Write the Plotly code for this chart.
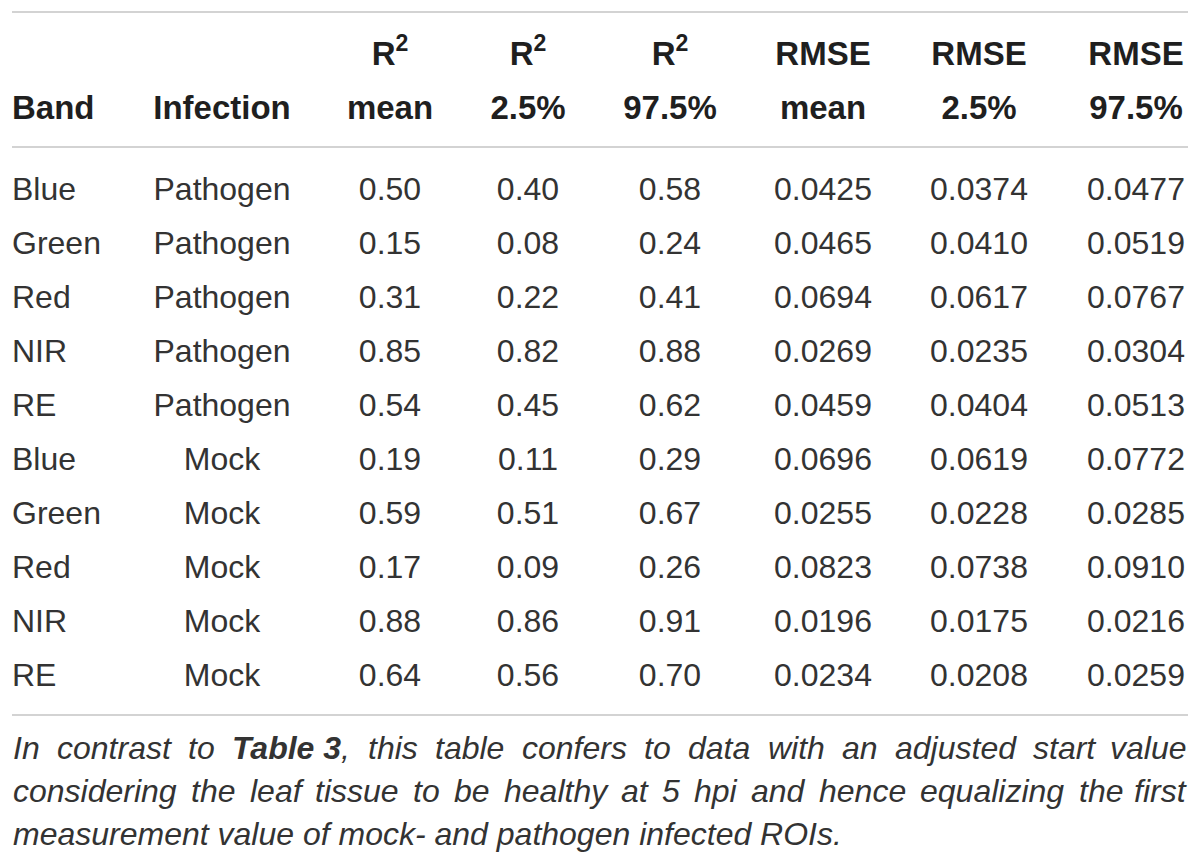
import plotly.graph_objects as go

# table values
bands = ["Blue", "Green", "Red", "NIR", "RE", "Blue", "Green", "Red", "NIR", "RE"]
infection = ["Pathogen", "Pathogen", "Pathogen", "Pathogen", "Pathogen",
             "Mock", "Mock", "Mock", "Mock", "Mock"]
r2_mean = [0.50, 0.15, 0.31, 0.85, 0.54, 0.19, 0.59, 0.17, 0.88, 0.64]
r2_lo = [0.40, 0.08, 0.22, 0.82, 0.45, 0.11, 0.51, 0.09, 0.86, 0.56]
r2_hi = [0.58, 0.24, 0.41, 0.88, 0.62, 0.29, 0.67, 0.26, 0.91, 0.70]
rmse_mean = [0.0425, 0.0465, 0.0694, 0.0269, 0.0459, 0.0696, 0.0255, 0.0823, 0.0196, 0.0234]
rmse_lo = [0.0374, 0.0410, 0.0617, 0.0235, 0.0404, 0.0619, 0.0228, 0.0738, 0.0175, 0.0208]
rmse_hi = [0.0477, 0.0519, 0.0767, 0.0304, 0.0513, 0.0772, 0.0285, 0.0910, 0.0216, 0.0259]

header_top = ["", "", "R<sup>2</sup>", "R<sup>2</sup>", "R<sup>2</sup>", "RMSE", "RMSE", "RMSE"]
header_bottom = ["Band", "Infection", "mean", "2.5%", "97.5%", "mean", "2.5%", "97.5%"]

caption_lines = [
    "In contrast to <b>Table 3</b>, this table confers to data with an adjusted start value",
    "considering the leaf tissue to be healthy at 5 hpi and hence equalizing the first",
    "measurement value of mock- and pathogen infected ROIs.",
]

# layout, in page pixels (the page body adds an 8px margin round the figure)
PAGE_W, PAGE_H = 1200, 863
PAGE_MARGIN = 8
W, H = PAGE_W - 2 * PAGE_MARGIN, PAGE_H - 2 * PAGE_MARGIN
LEFT, RIGHT = 12, 1188
COL_X = [LEFT, 222, 390, 528, 670, 823, 979, 1136]
ROW0, ROW_H = 192, 54
HEADER_ROWS = [-2.5, -1.5]
RULES_PX = [12, 147, 715]
CAPTION_PX = [748, 791, 834]
FONT = "Liberation Sans"
BODY_SIZE = 32
HEAD_SIZE = 33
CAP_SIZE = 32
TXT = "#333333"
HEAD_TXT = "#1f1f1f"
RULE = "#d3d3d3"

# Helvetica/Arial advance widths (1/1000 em) for caption justification
REG = {" ": 278, ",": 278, ".": 278, "-": 333, "5": 556, "3": 556,
       "a": 556, "b": 556, "c": 500, "d": 556, "e": 556, "f": 278, "g": 556,
       "h": 556, "i": 222, "j": 222, "k": 500, "l": 222, "m": 833, "n": 556,
       "o": 556, "p": 556, "q": 556, "r": 333, "s": 500, "t": 278, "u": 556,
       "v": 500, "w": 722, "x": 500, "y": 500, "z": 500,
       "I": 278, "O": 778, "R": 722, "S": 667, "T": 611}
BOLD = {" ": 278, "T": 611, "a": 556, "b": 611, "l": 278, "e": 556, "3": 556}


def word_width(word, size):
    total = 0
    bold = False
    i = 0
    while i < len(word):
        if word.startswith("<b>", i):
            bold = True
            i += 3
            continue
        if word.startswith("</b>", i):
            bold = False
            i += 4
            continue
        ch = word[i]
        table = BOLD if bold else REG
        total += table.get(ch, REG.get(ch, 556))
        i += 1
    return total * size / 1000.0


def row_y(px):
    return (px - ROW0) / ROW_H


fig = go.Figure()

columns = [
    bands,
    infection,
    [f"{v:.2f}" for v in r2_mean],
    [f"{v:.2f}" for v in r2_lo],
    [f"{v:.2f}" for v in r2_hi],
    [f"{v:.4f}" for v in rmse_mean],
    [f"{v:.4f}" for v in rmse_lo],
    [f"{v:.4f}" for v in rmse_hi],
]
rows = list(range(len(bands)))

for c, values in enumerate(columns):
    fig.add_trace(go.Scatter(
        x=[COL_X[c]] * len(values),
        y=rows,
        mode="text",
        text=values,
        textposition="middle right" if c == 0 else "middle center",
        textfont=dict(family=FONT, size=BODY_SIZE, color=TXT),
        hoverinfo="skip",
    ))

# header, two lines (empty cells skipped)
head_font = dict(family=FONT, size=HEAD_SIZE, color=HEAD_TXT, weight="bold")
for labels, yy in zip([header_top, header_bottom], HEADER_ROWS):
    xs = [COL_X[c] for c in range(1, len(labels)) if labels[c]]
    ts = [labels[c] for c in range(1, len(labels)) if labels[c]]
    fig.add_trace(go.Scatter(
        x=xs, y=[yy] * len(xs), mode="text", text=ts,
        textposition="middle center", textfont=head_font, hoverinfo="skip",
    ))
    if labels[0]:
        fig.add_trace(go.Scatter(
            x=[COL_X[0]], y=[yy], mode="text", text=[labels[0]],
            textposition="middle right", textfont=head_font, hoverinfo="skip",
        ))

# horizontal rules
shapes = []
for px in RULES_PX:
    shapes.append(dict(type="line", xref="x", yref="y",
                       x0=LEFT, x1=RIGHT, y0=row_y(px), y1=row_y(px),
                       line=dict(color=RULE, width=2)))

# justified caption: every word placed separately on full lines
annotations = []
cap_font = dict(family=FONT, size=CAP_SIZE, color=TXT, style="italic")
for k, line in enumerate(caption_lines):
    yy = row_y(CAPTION_PX[k])
    if k == len(caption_lines) - 1:
        annotations.append(dict(x=LEFT, y=yy, xref="x", yref="y", text=line,
                                showarrow=False, xanchor="left", yanchor="middle",
                                font=cap_font, borderpad=0))
        continue
    words = line.replace("<b>Table 3</b>,", "<b>Table\u00a03</b>,").split(" ")
    words = [w.replace("\u00a0", " ") for w in words]
    widths = [word_width(w, CAP_SIZE) for w in words]
    gap = (RIGHT - LEFT - sum(widths)) / (len(words) - 1)
    x = LEFT
    for i, w in enumerate(words):
        last = i == len(words) - 1
        annotations.append(dict(x=RIGHT if last else x, y=yy, xref="x", yref="y",
                                text=w, showarrow=False,
                                xanchor="right" if last else "left",
                                yanchor="middle", font=cap_font, borderpad=0))
        x += widths[i] + gap

fig.update_layout(
    width=W, height=H,
    margin=dict(l=0, r=0, t=0, b=0),
    paper_bgcolor="white", plot_bgcolor="white",
    showlegend=False, hovermode=False,
    xaxis=dict(range=[PAGE_MARGIN, PAGE_MARGIN + W], visible=False, fixedrange=True),
    yaxis=dict(range=[row_y(PAGE_MARGIN + H), row_y(PAGE_MARGIN)],
               visible=False, fixedrange=True),
    shapes=shapes,
    annotations=annotations,
)

fig.write_html("out.html")
